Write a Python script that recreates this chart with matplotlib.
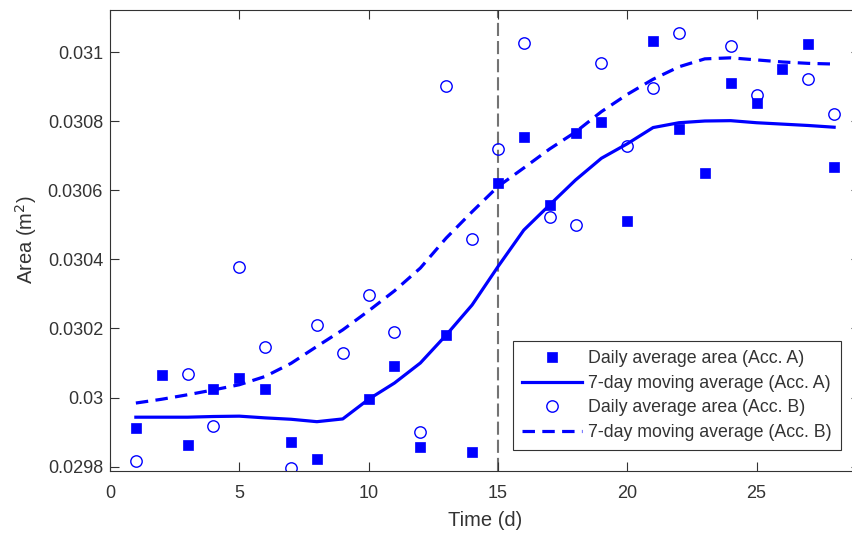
import numpy as np
import matplotlib
matplotlib.use("Agg")
import matplotlib.pyplot as plt

plt.rcParams['font.family'] = ['Liberation Sans', 'DejaVu Sans']

# days 1..28
days = np.arange(1, 29)

# daily average area, accelerometer A (day 9 missing)
area_a = [0.029913, 0.030064, 0.029861, 0.030024, 0.030057, 0.030025, 0.029871,
          0.029822, np.nan, 0.029995, 0.030090, 0.029857, 0.030181, 0.029843,
          0.030621, 0.030754, 0.030558, 0.030767, 0.030797, 0.030512, 0.031034,
          0.030778, 0.030651, 0.030910, 0.030854, 0.030952, 0.031023, 0.030669]

# 7-day moving average, A
mavg_a = [0.029943, 0.029943, 0.029943, 0.029945, 0.029946, 0.029941, 0.029937,
          0.029930, 0.029938, 0.029995, 0.030042, 0.030100, 0.030181, 0.030268,
          0.030379, 0.030485, 0.030558, 0.030630, 0.030693, 0.030735, 0.030782,
          0.030796, 0.030801, 0.030802, 0.030796, 0.030792, 0.030788, 0.030783]

# daily average area, accelerometer B (days 2, 23, 26 missing)
area_b = [0.029817, np.nan, 0.030068, 0.029918, 0.030379, 0.030146, 0.029795,
          0.030210, 0.030129, 0.030297, 0.030190, 0.029900, 0.030901, 0.030460,
          0.030720, 0.031026, 0.030524, 0.030499, 0.030970, 0.030729, 0.030896,
          0.031057, np.nan, 0.031018, 0.030877, np.nan, 0.030922, 0.030821]

# 7-day moving average, B
mavg_b = [0.029984, 0.029995, 0.030008, 0.030022, 0.030037, 0.030061, 0.030099,
          0.030148, 0.030196, 0.030251, 0.030309, 0.030375, 0.030462, 0.030538,
          0.030611, 0.030665, 0.030720, 0.030769, 0.030828, 0.030878, 0.030922,
          0.030958, 0.030981, 0.030984, 0.030978, 0.030972, 0.030968, 0.030966]

event_day = 15
yticks = [0.0298, 0.0300, 0.0302, 0.0304, 0.0306, 0.0308, 0.0310]
xticks = [0, 5, 10, 15, 20, 25]

W, H = 852, 533
fig = plt.figure(figsize=(W / 100, H / 100), dpi=100)
# axes runs a little past the right edge of the picture, like the original crop
ax = fig.add_axes([110 / W, (H - 470.7) / H, 750 / W, 461.2 / H])

blue = (0, 0, 1)
txt = (0.2, 0.2, 0.2)

ax.axvline(event_day, color=(0.45, 0.45, 0.45), lw=1.5, linestyle=(0, (6.3, 2.4)), zorder=1)

ax.plot(days, area_a, linestyle='none', marker='s', markersize=6.8, color=blue,
        markeredgewidth=0.5, label='Daily average area (Acc. A)')
ax.plot(days, mavg_a, '-', color=blue, lw=2.3, label='7-day moving average (Acc. A)')
ax.plot(days, area_b, linestyle='none', marker='o', markersize=8.2, color=blue,
        markerfacecolor='none', markeredgewidth=1.0, label='Daily average area (Acc. B)')
ax.plot(days, mavg_b, color=blue, lw=2.3, linestyle=(0, (3.9, 2.3)),
        label='7-day moving average (Acc. B)')

ax.set_xlim(0, 29)
ax.set_ylim(0.029788, 0.031124)
ax.set_xticks(xticks)
ax.set_yticks(yticks)
ax.set_yticklabels([f'{v:g}' for v in yticks])

ax.tick_params(direction='in', length=6.5, width=0.8, colors=txt, labelsize=13,
               top=True, right=True, pad=5)
ax.tick_params(axis='x', pad=10.5)
for s in ax.spines.values():
    s.set_color(txt)
    s.set_linewidth(0.8)

ax.set_xlabel('Time (d)', fontsize=14.5, color=txt, labelpad=6.5)
ax.set_ylabel('Area (m$^2$)', fontsize=14.5, color=txt, labelpad=6)

leg = ax.legend(loc='lower right', bbox_to_anchor=(0.9743, 0.0449), borderaxespad=0,
                fontsize=12.8, handlelength=3.4, handletextpad=0.35, labelspacing=0.43,
                borderpad=0.5, fancybox=False, framealpha=1, edgecolor=txt)
leg.get_frame().set_linewidth(0.8)
for t in leg.get_texts():
    t.set_color(txt)

fig.savefig('out.png', dpi=100)
